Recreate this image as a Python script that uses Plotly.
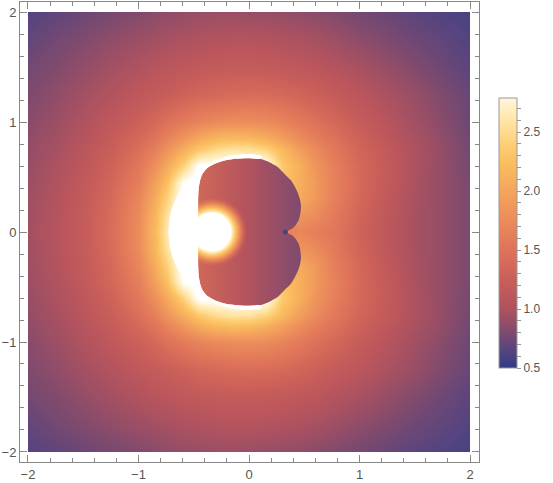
import plotly.graph_objects as go

# colour ramp (value -> colour)
ramp_values = [0.5, 0.6, 0.7, 0.8, 0.9, 1.0, 1.1, 1.25, 1.5, 1.75, 2.0, 2.25, 2.4, 2.5, 2.65, 2.79]
ramp_colors = ['#2f3a87', '#4a4282', '#63467a', '#7e4a6e', '#984e66', '#ad5260', '#bb565c', '#c95f59',
               '#df735a', '#eb8b5b', '#f4a55c', '#fbbf5f', '#fdce78', '#fedb8e', '#ffeab5', '#fff7dc']
bar_min, bar_max = 0.5, 2.79
clip_max = 2.9  # above this the plot shows plain white

# density at these sample points (upper half, plot is symmetric in y)
grid_x = [-2.0, -1.75, -1.5, -1.25, -1.0, -0.85, -0.75, -0.6, -0.45, -0.3, -0.15, 0.0,
          0.15, 0.3, 0.45, 0.6, 0.75, 1.0, 1.25, 1.5, 1.75, 2.0]
grid_y = [0.0, 0.15, 0.3, 0.45, 0.6, 0.75, 0.85, 1.0, 1.25, 1.5, 1.75, 2.0]
density_rows = [
    [0.95, 1.06, 1.20, 1.42, 1.78, 2.20, 2.60, 2.95, 2.95, 2.95, 2.95, 2.95,
     2.40, 1.60, 1.70, 1.62, 1.55, 1.30, 1.12, 0.97, 0.88, 0.79],
    [0.94, 1.05, 1.19, 1.41, 1.76, 2.16, 2.55, 2.95, 2.95, 2.95, 2.95, 2.95,
     2.40, 1.90, 1.85, 1.75, 1.60, 1.32, 1.13, 0.97, 0.88, 0.79],
    [0.93, 1.04, 1.18, 1.38, 1.71, 2.07, 2.40, 2.95, 2.95, 2.95, 2.95, 2.95,
     2.50, 2.10, 2.05, 1.88, 1.65, 1.36, 1.15, 0.98, 0.88, 0.79],
    [0.92, 1.02, 1.16, 1.35, 1.63, 1.95, 2.22, 2.90, 2.95, 2.95, 2.95, 2.95,
     2.60, 2.30, 2.10, 1.90, 1.68, 1.38, 1.17, 0.99, 0.88, 0.78],
    [0.90, 1.00, 1.12, 1.30, 1.55, 1.80, 2.02, 2.42, 2.95, 2.95, 2.95, 2.95,
     2.95, 2.35, 2.10, 1.85, 1.65, 1.37, 1.18, 1.00, 0.88, 0.77],
    [0.88, 0.97, 1.09, 1.24, 1.46, 1.64, 1.82, 2.08, 2.35, 2.52, 2.60, 2.58,
     2.45, 2.20, 1.95, 1.75, 1.58, 1.33, 1.16, 1.00, 0.88, 0.76],
    [0.87, 0.95, 1.06, 1.20, 1.39, 1.52, 1.66, 1.86, 2.05, 2.18, 2.22, 2.20,
     2.10, 1.95, 1.78, 1.63, 1.50, 1.29, 1.12, 0.98, 0.87, 0.75],
    [0.84, 0.92, 1.02, 1.14, 1.27, 1.38, 1.47, 1.58, 1.68, 1.74, 1.77, 1.78,
     1.75, 1.68, 1.58, 1.48, 1.38, 1.20, 1.07, 0.94, 0.84, 0.73],
    [0.80, 0.87, 0.95, 1.04, 1.14, 1.19, 1.23, 1.29, 1.35, 1.38, 1.41, 1.42,
     1.41, 1.38, 1.33, 1.27, 1.20, 1.10, 0.99, 0.90, 0.80, 0.72],
    [0.76, 0.81, 0.88, 0.95, 1.02, 1.07, 1.09, 1.13, 1.16, 1.18, 1.19, 1.19,
     1.18, 1.16, 1.13, 1.10, 1.05, 0.97, 0.89, 0.81, 0.74, 0.67],
    [0.70, 0.76, 0.81, 0.87, 0.92, 0.95, 0.97, 1.00, 1.02, 1.04, 1.05, 1.05,
     1.04, 1.02, 1.00, 0.97, 0.93, 0.86, 0.80, 0.74, 0.69, 0.63],
    [0.64, 0.69, 0.73, 0.77, 0.81, 0.84, 0.86, 0.88, 0.90, 0.91, 0.91, 0.90,
     0.89, 0.88, 0.86, 0.84, 0.81, 0.76, 0.72, 0.67, 0.63, 0.60],
]

# outline of the dark lobed region (upper half, left edge round to the cusp)
lobe_x = [-0.46, -0.46, -0.46, -0.455, -0.44, -0.42, -0.38, -0.31, -0.22, -0.12, 0.0, 0.1,
          0.16, 0.21, 0.26, 0.30, 0.34, 0.38, 0.41, 0.44, 0.46, 0.47, 0.465, 0.45, 0.42, 0.39, 0.33]
lobe_y = [0.0, 0.18, 0.30, 0.40, 0.48, 0.53, 0.58, 0.62, 0.65, 0.665, 0.67, 0.665,
          0.645, 0.62, 0.59, 0.55, 0.51, 0.47, 0.42, 0.36, 0.30, 0.24, 0.17, 0.11, 0.06, 0.03, 0.0]
lobe_colors = [[0.0, '#d06858'], [0.45, '#b5545d'], [1.0, '#7f4a6e']]

# outer edge of the white crescent (upper half, from the axis up to its tip)
arc_x = [-0.73, -0.72, -0.687, -0.635, -0.564, -0.476, -0.375, -0.263, -0.143, -0.02, 0.06, 0.12]
arc_y = [0.0, 0.123, 0.243, 0.355, 0.456, 0.544, 0.615, 0.667, 0.699, 0.71, 0.705, 0.69]

# bright disc cut into the left of the lobes, and the dark cusp point
disc_x, disc_y = [-0.335], [0.0]
cusp_x, cusp_y = [0.33], [0.0]
# glow round the disc: marker size (px), density value, opacity
glow_sizes = [70, 67, 64, 61, 58, 55, 52, 49, 46, 43, 41]
glow_values = [1.4, 1.5, 1.6, 1.72, 1.85, 2.0, 2.15, 2.3, 2.48, 2.62, 2.75]
glow_opacity = [0.15, 0.25, 0.35, 0.45, 0.55, 0.65, 0.75, 0.85, 0.92, 0.97, 1.0]

full_y = [-v for v in reversed(grid_y[1:])] + grid_y
full_z = list(reversed(density_rows[1:])) + density_rows


def scale(lo, hi):
    return [[(v - lo) / (hi - lo), c] for v, c in zip(ramp_values, ramp_colors)]


def ramp_color(v):
    for (v0, c0), (v1, c1) in zip(zip(ramp_values, ramp_colors), zip(ramp_values[1:], ramp_colors[1:])):
        if v0 <= v <= v1:
            t = (v - v0) / (v1 - v0)
            a = [int(c0[i:i + 2], 16) for i in (1, 3, 5)]
            b = [int(c1[i:i + 2], 16) for i in (1, 3, 5)]
            return 'rgb(%d,%d,%d)' % tuple(round(p + (q - p) * t) for p, q in zip(a, b))
    return ramp_colors[-1]


bg_scale = scale(bar_min, clip_max) + [[1.0, '#ffffff']]
bar_scale = scale(bar_min, bar_max)

lobe = list(zip(lobe_x, lobe_y))
full_lobe = lobe + [(x, -y) for x, y in reversed(lobe[1:-1])]

arc = list(zip(arc_x, arc_y))
inner = [p for p in lobe if p[0] <= 0.1]
crescent = (arc + list(reversed(inner)) + [(x, -y) for x, y in inner[1:]]
            + [(x, -y) for x, y in reversed(arc[1:])])

fig = go.Figure()

ticks = [round(bar_min + 0.1 * i, 1) for i in range(23)]
fig.add_trace(go.Scatter(
    x=cusp_x, y=cusp_y, mode='markers', hoverinfo='skip',
    marker=dict(size=1, opacity=0, color=[bar_min], cmin=bar_min, cmax=bar_max,
                colorscale=bar_scale, showscale=True,
                colorbar=dict(thickness=18, len=270, lenmode='pixels',
                              x=(499 - 20) / 459, xanchor='left', xpad=0,
                              y=(462 - 233) / 460, yanchor='middle', ypad=0,
                              outlinewidth=1, outlinecolor='#999',
                              tickmode='array', tickvals=ticks,
                              ticktext=[f'{t:.1f}' if round(t * 2, 6) % 1 == 0 else '' for t in ticks],
                              ticks='outside', ticklen=4, tickcolor='#999',
                              tickfont=dict(size=12, color='#555')))))

sub = dict(xaxis='x2', yaxis='y2', hoverinfo='skip')

fig.add_trace(go.Heatmap(x=grid_x, y=full_y, z=full_z, zmin=bar_min, zmax=clip_max,
                         colorscale=bg_scale, zsmooth='best', showscale=False, **sub))

fig.add_trace(go.Scatter(
    x=[p[0] for p in full_lobe], y=[p[1] for p in full_lobe], mode='lines', fill='toself',
    line=dict(width=0, shape='spline', smoothing=0.7),
    fillgradient=dict(type='horizontal', colorscale=lobe_colors), **sub))

for size, val, op in zip(glow_sizes, glow_values, glow_opacity):
    fig.add_trace(go.Scatter(x=disc_x, y=disc_y, mode='markers',
                             marker=dict(size=size, color=ramp_color(val), opacity=op, line_width=0), **sub))

fig.add_trace(go.Scatter(x=[p[0] for p in crescent], y=[p[1] for p in crescent], mode='lines',
                         fill='toself', fillcolor='#ffffff',
                         line=dict(width=0, shape='spline', smoothing=0.5), **sub))
fig.add_trace(go.Scatter(x=disc_x, y=disc_y, mode='markers',
                         marker=dict(size=39, color='#ffffff', line_width=0), **sub))
fig.add_trace(go.Scatter(x=cusp_x, y=cusp_y, mode='markers',
                         marker=dict(size=5, color='#41407f', opacity=0.9, line_width=0), **sub))

axis_style = dict(showline=True, linecolor='#888', linewidth=1, mirror='allticks',
                  ticks='inside', ticklen=7, tickcolor='#888', tick0=0, dtick=1,
                  showgrid=False, zeroline=False, automargin=False,
                  minor=dict(ticks='inside', dtick=0.2, ticklen=4, tickcolor='#888', showgrid=False))
fig.update_layout(
    width=553, height=483, margin=dict(l=20, r=74, t=2, b=21, autoexpand=False),
    paper_bgcolor='white', plot_bgcolor='rgba(0,0,0,0)', showlegend=False,
    font=dict(family='Liberation Sans', size=13, color='#555'),
    xaxis=dict(domain=[0, 1], range=[-2.072, 2.081], **axis_style),
    yaxis=dict(domain=[0, 1], range=[-2.091, 2.091], **axis_style),
    xaxis2=dict(domain=[8 / 459, 450 / 459], range=[-2, 2], visible=False, anchor='y2'),
    yaxis2=dict(domain=[10 / 460, 450 / 460], range=[-2, 2], visible=False, anchor='x2'),
)

# the page body has a default 8px margin; drop it so the figure sits at the window corner
fig.write_html("out.html", config={'displayModeBar': False},
               post_script="document.body.style.margin='0px';")
